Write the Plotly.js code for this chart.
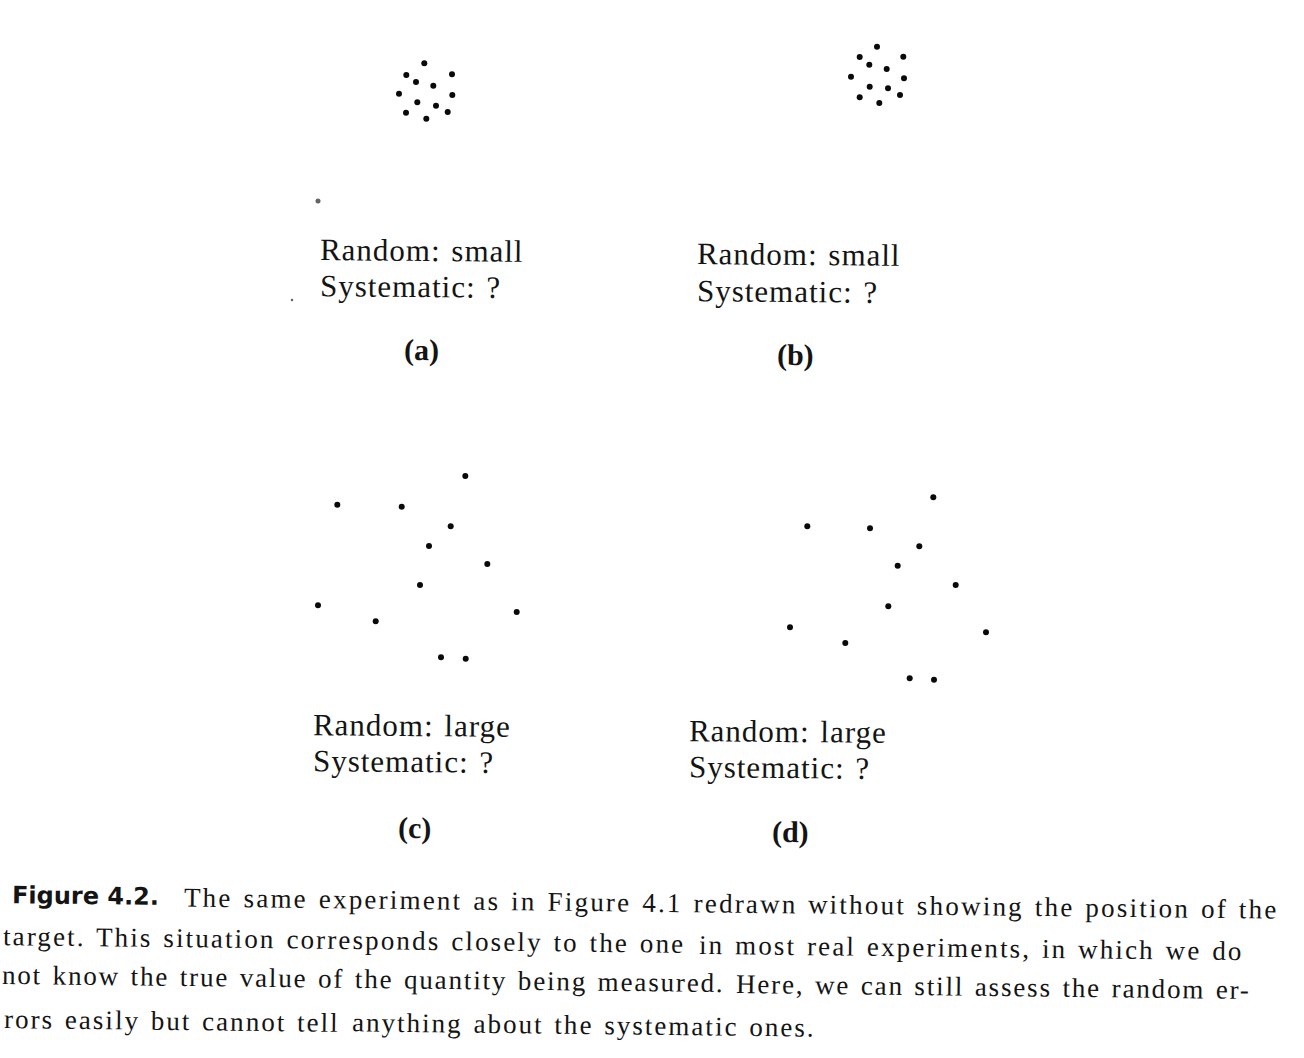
<!DOCTYPE html>
<html>
<head>
<meta charset="utf-8">
<script src="https://cdn.plot.ly/plotly-3.0.1.min.js"></script>
<style>html,body{margin:0;padding:0;background:#fff;}#chart{width:1304px;height:1058px;}</style>
</head>
<body>
<div id="chart"></div>
<script>
// ---- data (local panel units, y upward) ----
var panelNames = ["(a)", "(b)", "(c)", "(d)"];
var randomLabels = ["Random: small", "Random: small", "Random: large", "Random: large"];
var systematicLabel = "Systematic: ?";

var aX = [134.3, 116.3, 162, 126, 143.3, 109, 162.3, 127.3, 146, 116, 157.7, 136.3];
var aY = [276.7, 265, 265.7, 258, 254.3, 246.3, 245, 237.7, 234.3, 227.3, 228, 221.3];

var bX = [137, 119.7, 163.3, 129.3, 146.7, 111, 164, 129.7, 148, 119.7, 160, 139.3];
var bY = [273.3, 263, 263.3, 255.3, 251, 243.3, 241.7, 233.3, 231.7, 222.7, 225, 217];

var cX = [185.3, 57.3, 121.7, 170.7, 149, 207.3, 140, 38, 236.7, 95.7, 161, 185.7];
var cY = [264, 235.3, 233.3, 213.7, 194, 176, 155, 134.7, 128, 118.7, 82.7, 81.3];

var dX = [183.3, 57.3, 120, 169.3, 147.7, 205.7, 138.3, 40, 236, 95.3, 159.7, 184];
var dY = [262.7, 233.7, 231.7, 213.7, 194.3, 175, 153.7, 132.7, 127.7, 117, 81.7, 80.3];

// stray marks on the scanned page (panel a frame)
var strayX = [28, 2];
var strayY = [139, 40];

var captionBold = "Figure 4.2.";
// each caption line as [first half, second half]
var captionLines = [
  ["The same experiment as in Figure 4.1 redrawn", "without showing the position of the"],
  ["target. This situation corresponds closely to the one", "in most real experiments, in which we do"],
  ["not know the true value of the quantity being measured.", "Here, we can still assess the random er-"],
  ["rors easily but cannot tell", "anything about the systematic ones."]
];

// ---- layout helpers (pixels -> paper) ----
var W = 1304, H = 1058;
function px(x) { return x / W; }
function py(y) { return 1 - y / H; }
// panel boxes in pixels: [left, top, size]
var boxes = [[290, 40, 300], [740, 20, 300], [280, 440, 300], [750, 460, 300]];

var dotStyle = {color: "#0a0a0a", size: 6, line: {width: 0}};
var series = [[aX, aY], [bX, bY], [cX, cY], [dX, dY]];
var traces = [];
var layout = {
  width: W, height: H,
  margin: {l: 0, r: 0, t: 0, b: 0},
  paper_bgcolor: "#ffffff", plot_bgcolor: "#ffffff",
  showlegend: false,
  annotations: []
};
series.forEach(function (s, i) {
  var sfx = i === 0 ? "" : String(i + 1);
  traces.push({x: s[0], y: s[1], type: "scatter", mode: "markers",
    xaxis: "x" + sfx, yaxis: "y" + sfx, marker: dotStyle, hoverinfo: "skip"});
  var b = boxes[i];
  layout["xaxis" + sfx] = {domain: [px(b[0]), px(b[0] + b[2])], range: [0, b[2]], visible: false, fixedrange: true};
  layout["yaxis" + sfx] = {domain: [py(b[1] + b[2]), py(b[1])], range: [0, b[2]], visible: false, fixedrange: true};
});
traces.push({x: strayX, y: strayY, type: "scatter", mode: "markers", xaxis: "x", yaxis: "y",
  marker: {color: "#222", size: [5, 2.5], line: {width: 0}}, hoverinfo: "skip"});

var txtColor = "#141414";
var serif = "Liberation Serif, Times New Roman, serif";
function spaced(t, ls, ws) {
  return '<span style="letter-spacing:' + ls + 'px;word-spacing:' + ws + 'px">' + t + '</span>';
}
function ann(text, x, y, opts) {
  var a = {text: text, x: px(x), y: py(y), xref: "paper", yref: "paper",
    showarrow: false, xanchor: "left", yanchor: "middle", textangle: 0.5, borderpad: 0,
    font: {family: serif, size: 31, color: txtColor}};
  for (var k in opts) a[k] = opts[k];
  layout.annotations.push(a);
}
// panel texts [x of text start, y random line, y systematic line, label x, label y]
var textPos = [[319, 251, 286, 421, 350], [696, 255, 291, 795, 355], [312, 725, 761, 414, 828], [688, 731, 767, 790, 832]];
textPos.forEach(function (p, i) {
  ann(spaced(randomLabels[i], 1, 2), p[0], p[1]);
  ann(spaced(systematicLabel, 1, 2), p[0], p[2]);
  ann("<b>" + panelNames[i] + "</b>", p[3], p[4], {xanchor: "center", font: {family: serif, size: 30, color: txtColor}});
});

// caption
ann("<b>" + captionBold + "</b>", 85, 896, {xanchor: "center", textangle: 0.6,
  font: {family: "DejaVu Sans, Verdana, sans-serif", size: 24, color: txtColor}});
// [start x, end x, centre x, centre y, letter spacing]
var capPos = [[183, 1280, 731, 904, 2.21], [2, 1245, 623, 944, 2.13], [1, 1252, 627, 983, 1.85], [3, 817, 409, 1023, 2.03]];
var slope = Math.tan(0.65 * Math.PI / 180);
captionLines.forEach(function (halves, i) {
  var c = capPos[i];
  var q = (c[1] - c[0]) / 4;
  var yl = c[3] + (c[0] + q - c[2]) * slope;
  var yr = c[3] + (c[1] - q - c[2]) * slope;
  var f = {family: serif, size: 27, color: txtColor};
  ann(spaced(halves[0], c[4], 2), c[0], yl, {xanchor: "left", textangle: 0.65, font: f});
  ann(spaced(halves[1], c[4], 2), c[1], yr, {xanchor: "right", textangle: 0.65, font: f});
});

Plotly.newPlot("chart", traces, layout, {staticPlot: true, displayModeBar: false});
</script>
</body>
</html>
